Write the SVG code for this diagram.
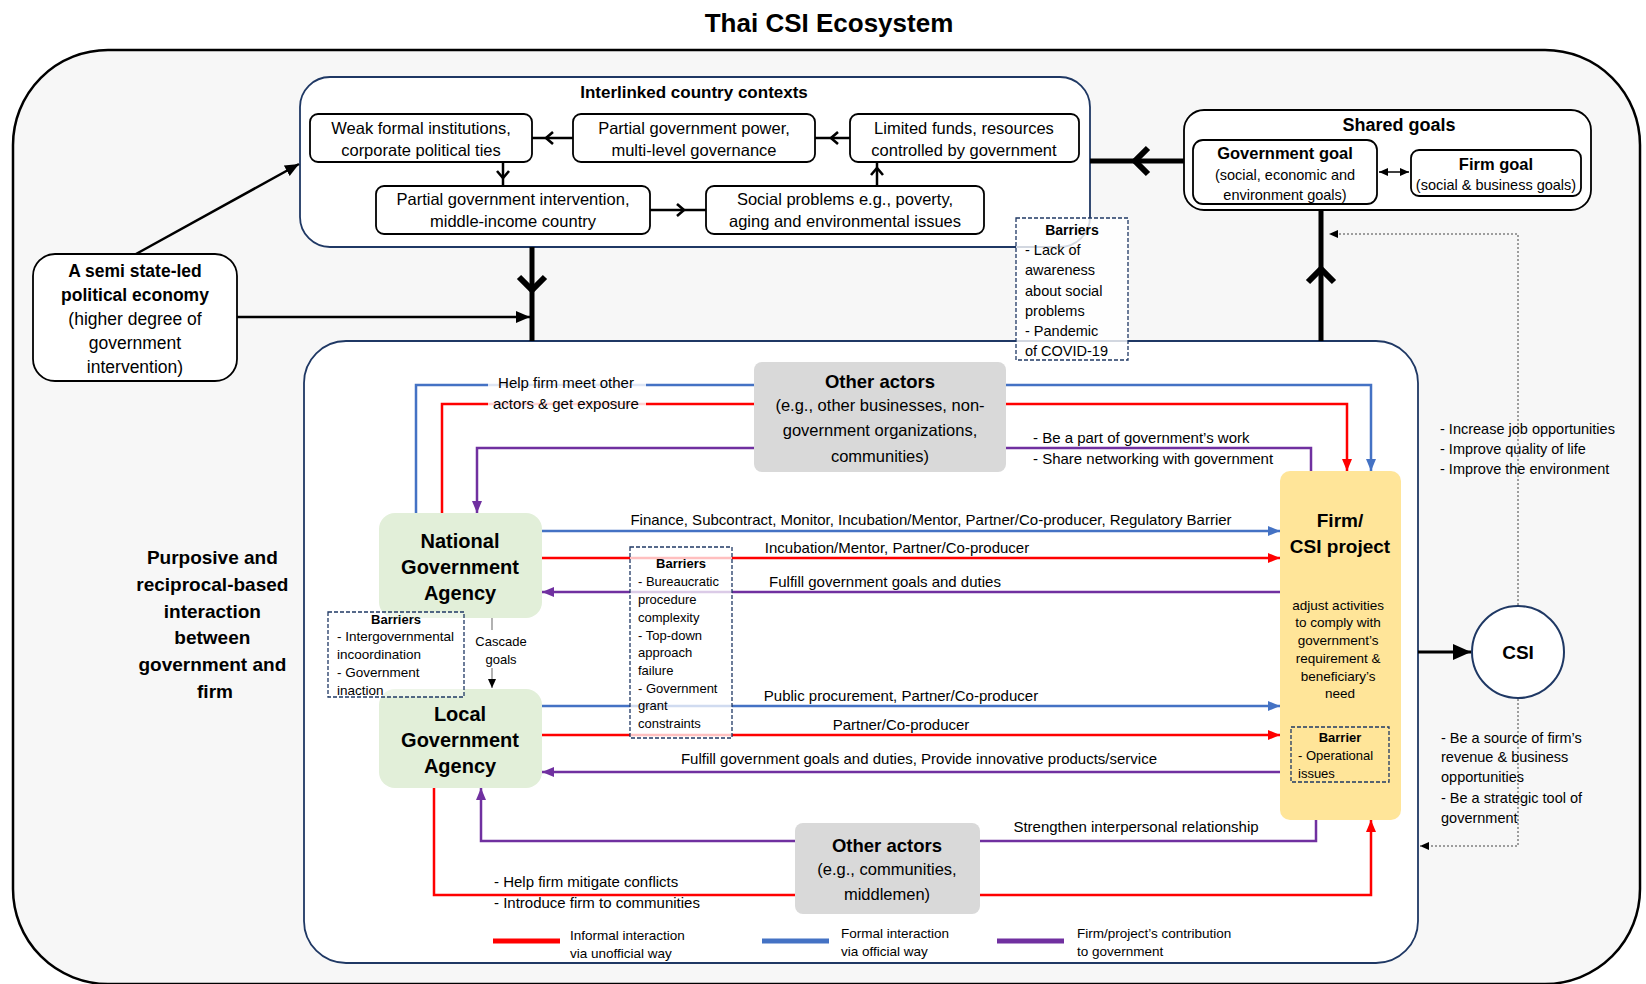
<svg xmlns="http://www.w3.org/2000/svg" width="1646" height="984" viewBox="0 0 1646 984">
  <style>
    text { font-family: "Liberation Sans", Arial, sans-serif; fill: #000; }
    .b { font-weight: bold; }
    .c { text-anchor: middle; }
    .ctx { font-size: 16.5px; }
    .lbl { font-size: 15px; }
    .sm { font-size: 13.5px; }
    .xs { font-size: 13px; }
    .box { fill: #fff; stroke: #000; stroke-width: 1.8; }
    .navy { fill: #fff; stroke: #1f3864; stroke-width: 1.8; }
    .dash { stroke: #1f3864; stroke-width: 1.3; stroke-dasharray: 4 2; }
    .gray { fill: #d9d9d9; }
    .gov { fill: #e2efd9; }
    .blue { fill: none; stroke: #4472c4; stroke-width: 2.5; }
    .red { fill: none; stroke: #ff0000; stroke-width: 2.5; }
    .purple { fill: none; stroke: #7030a0; stroke-width: 2.5; }
    .thin { fill: none; stroke: #000; stroke-width: 2.5; }
    .thick { fill: none; stroke: #000; stroke-width: 5; }
    .dot { fill: none; stroke: #444; stroke-width: 1; stroke-dasharray: 2 2; }
  </style>
  <defs>
    <marker id="aBlue" markerUnits="userSpaceOnUse" viewBox="0 0 12 10" refX="12" refY="5" markerWidth="12" markerHeight="10" orient="auto">
      <path d="M0,0 L12,5 L0,10 z" fill="#4472c4"/>
    </marker>
    <marker id="aRed" markerUnits="userSpaceOnUse" viewBox="0 0 12 10" refX="12" refY="5" markerWidth="12" markerHeight="10" orient="auto">
      <path d="M0,0 L12,5 L0,10 z" fill="#ff0000"/>
    </marker>
    <marker id="aPurple" markerUnits="userSpaceOnUse" viewBox="0 0 12 10" refX="12" refY="5" markerWidth="12" markerHeight="10" orient="auto">
      <path d="M0,0 L12,5 L0,10 z" fill="#7030a0"/>
    </marker>
    <marker id="aBlack" markerUnits="userSpaceOnUse" viewBox="0 0 14 12" refX="14" refY="6" markerWidth="14" markerHeight="12" orient="auto-start-reverse">
      <path d="M0,0 L14,6 L0,12 z" fill="#000"/>
    </marker>
    <marker id="aSmall" markerUnits="userSpaceOnUse" viewBox="0 0 9 8" refX="9" refY="4" markerWidth="9" markerHeight="8" orient="auto-start-reverse">
      <path d="M0,0 L9,4 L0,8 z" fill="#000"/>
    </marker>
    <marker id="aBig" markerUnits="userSpaceOnUse" viewBox="0 0 18 16" refX="18" refY="8" markerWidth="18" markerHeight="16" orient="auto">
      <path d="M0,0 L18,8 L0,16 z" fill="#000"/>
    </marker>
    <marker id="chev" markerUnits="userSpaceOnUse" viewBox="0 0 12 16" refX="9" refY="8" markerWidth="12" markerHeight="16" orient="auto">
      <path d="M2,2 L9,8 L2,14" fill="none" stroke="#000" stroke-width="2.6"/>
    </marker>
    <marker id="chevBig" markerUnits="userSpaceOnUse" viewBox="0 0 22 32" refX="17" refY="16" markerWidth="22" markerHeight="32" orient="auto">
      <path d="M3,3 L16,16 L3,29" fill="none" stroke="#000" stroke-width="6"/>
    </marker>
  </defs>

  <rect width="1646" height="984" fill="#fff"/>

  <!-- title -->
  <text x="829" y="32" class="b c" style="font-size:26px">Thai CSI Ecosystem</text>

  <!-- ecosystem frame -->
  <rect id="frame" x="13" y="50" width="1627" height="934" rx="95" fill="#f7f7f7" stroke="#000" stroke-width="2.5"/>

  <!-- interlinked contexts -->
  <g id="contexts">
    <rect x="300" y="77" width="790" height="170" rx="30" class="navy"/>
    <text x="694" y="98" class="b c" style="font-size:17px">Interlinked country contexts</text>
  </g>
  <g id="ctx-weak">
    <rect x="310" y="114" width="222" height="48" rx="8" class="box"/>
    <text x="421" y="134" class="c ctx">Weak formal institutions,</text>
    <text x="421" y="156" class="c ctx">corporate political ties</text>
  </g>
  <g id="ctx-power">
    <rect x="573" y="114" width="242" height="48" rx="8" class="box"/>
    <text x="694" y="134" class="c ctx">Partial government power,</text>
    <text x="694" y="156" class="c ctx">multi-level governance</text>
  </g>
  <g id="ctx-funds">
    <rect x="850" y="114" width="229" height="48" rx="8" class="box"/>
    <text x="964" y="134" class="c ctx">Limited funds, resources</text>
    <text x="964" y="156" class="c ctx">controlled by government</text>
  </g>
  <g id="ctx-intervention">
    <rect x="376" y="186" width="274" height="48" rx="8" class="box"/>
    <text x="513" y="205" class="c ctx">Partial government intervention,</text>
    <text x="513" y="227" class="c ctx">middle-income country</text>
  </g>
  <g id="ctx-social">
    <rect x="706" y="186" width="278" height="48" rx="8" class="box"/>
    <text x="845" y="205" class="c ctx">Social problems e.g., poverty,</text>
    <text x="845" y="227" class="c ctx">aging and environmental issues</text>
  </g>

  <!-- shared goals -->
  <g id="shared-goals">
    <rect x="1184" y="110" width="407" height="100" rx="20" class="box"/>
    <text x="1399" y="131" class="b c" style="font-size:18px">Shared goals</text>
  </g>
  <g id="gov-goal">
    <rect x="1193" y="140" width="184" height="64" rx="10" class="box"/>
    <text x="1285" y="159" class="b c" style="font-size:16.5px">Government goal</text>
    <text x="1285" y="180" class="c" style="font-size:14.5px">(social, economic and</text>
    <text x="1285" y="200" class="c" style="font-size:14.5px">environment goals)</text>
  </g>
  <g id="firm-goal">
    <rect x="1411" y="150" width="170" height="46" rx="8" class="box"/>
    <text x="1496" y="170" class="b c" style="font-size:16.5px">Firm goal</text>
    <text x="1496" y="190" class="c" style="font-size:14.5px">(social &amp; business goals)</text>
  </g>

  <!-- political economy -->
  <g id="political-economy">
    <rect x="33" y="254" width="204" height="127" rx="22" class="box"/>
    <text x="135" y="277" class="b c" style="font-size:17.5px">A semi state-led</text>
    <text x="135" y="301" class="b c" style="font-size:17.5px">political economy</text>
    <text x="135" y="325" class="c" style="font-size:17.5px">(higher degree of</text>
    <text x="135" y="349" class="c" style="font-size:17.5px">government</text>
    <text x="135" y="373" class="c" style="font-size:17.5px">intervention)</text>
  </g>

  <!-- interaction area -->
  <g id="interaction">
    <rect x="304" y="341" width="1114" height="622" rx="42" class="navy"/>
  </g>

  <text class="b c" style="font-size:19px">
    <tspan x="215" y="564">Purposive and</tspan>
    <tspan x="215" y="591">reciprocal-based</tspan>
    <tspan x="215" y="618">interaction</tspan>
    <tspan x="215" y="644">between</tspan>
    <tspan x="215" y="671">government and</tspan>
    <tspan x="215" y="698">firm</tspan>
  </text>

  <!-- connectors -->
  <g id="connectors">
    <!-- context chain -->
    <polyline points="573,138 546,138 532,138" class="thin" marker-mid="url(#chev)"/>
    <polyline points="850,138 831,138 815,138" class="thin" marker-mid="url(#chev)"/>
    <polyline points="503,162 503,178 503,186" class="thin" marker-mid="url(#chev)"/>
    <polyline points="650,210 684,210 706,210" class="thin" marker-mid="url(#chev)"/>
    <polyline points="877,186 877,168 877,162" class="thin" marker-mid="url(#chev)"/>

    <!-- macro links -->
    <polyline points="1184,161 1134,161 1090,161" class="thick" marker-mid="url(#chevBig)"/>
    <polyline points="532,247 532,291 532,341" class="thick" marker-mid="url(#chevBig)"/>
    <polyline points="1321,341 1321,268 1321,210" class="thick" marker-mid="url(#chevBig)"/>
    <line x1="136" y1="254" x2="299" y2="164" class="thin" marker-end="url(#aBlack)"/>
    <line x1="237" y1="317" x2="530" y2="317" class="thin" marker-end="url(#aBlack)"/>
    <line x1="1379" y1="172" x2="1409" y2="172" stroke="#000" stroke-width="1.5" marker-start="url(#aSmall)" marker-end="url(#aSmall)"/>

    <!-- firm to CSI -->
    <line x1="1418" y1="652" x2="1471" y2="652" stroke="#000" stroke-width="3" marker-end="url(#aBig)"/>
    <polyline points="1518,605 1518,234 1329,234" class="dot" marker-end="url(#aSmall)"/>
    <polyline points="1518,699 1518,846 1420,846" class="dot" marker-end="url(#aSmall)"/>

    <!-- loops through other actors (top) -->
    <polyline points="416,513 416,385 1371,385 1371,471" class="blue" marker-end="url(#aBlue)"/>
    <polyline points="442,513 442,404 1347,404 1347,471" class="red" marker-end="url(#aRed)"/>
    <polyline points="1311,471 1311,448 477,448 477,513" class="purple" marker-end="url(#aPurple)"/>

    <!-- national agency links -->
    <line x1="542" y1="531" x2="1280" y2="531" class="blue" marker-end="url(#aBlue)"/>
    <line x1="542" y1="558" x2="1280" y2="558" class="red" marker-end="url(#aRed)"/>
    <line x1="1280" y1="592" x2="542" y2="592" class="purple" marker-end="url(#aPurple)"/>

    <!-- local agency links -->
    <line x1="542" y1="706" x2="1280" y2="706" class="blue" marker-end="url(#aBlue)"/>
    <line x1="542" y1="735" x2="1280" y2="735" class="red" marker-end="url(#aRed)"/>
    <line x1="1280" y1="772" x2="542" y2="772" class="purple" marker-end="url(#aPurple)"/>

    <!-- loops through other actors (bottom) -->
    <polyline points="1316,820 1316,841 481,841 481,788" class="purple" marker-end="url(#aPurple)"/>
    <polyline points="434,788 434,895 1371,895 1371,820" class="red" marker-end="url(#aRed)"/>

    <!-- cascade -->
    <line x1="492" y1="618" x2="492" y2="688" stroke="#888" stroke-width="1.3" marker-end="url(#aSmall)"/>
  </g>

  <!-- connector labels -->
  <g id="labels">
    <rect x="488" y="372" width="158" height="42" fill="#fff" opacity="0.82"/>
    <text x="566" y="388" class="c lbl">Help firm meet other</text>
    <text x="566" y="409" class="c lbl">actors &amp; get exposure</text>
    <text x="1033" y="443" class="lbl">- Be a part of government’s work</text>
    <text x="1033" y="464" class="lbl">- Share networking with government</text>
    <text x="931" y="525" class="c lbl">Finance, Subcontract, Monitor, Incubation/Mentor, Partner/Co-producer, Regulatory Barrier</text>
    <text x="897" y="553" class="c lbl">Incubation/Mentor, Partner/Co-producer</text>
    <text x="885" y="587" class="c lbl">Fulfill government goals and duties</text>
    <text x="901" y="701" class="c lbl">Public procurement, Partner/Co-producer</text>
    <text x="901" y="730" class="c lbl">Partner/Co-producer</text>
    <text x="919" y="764" class="c lbl">Fulfill government goals and duties, Provide innovative products/service</text>
    <text x="1136" y="832" class="c lbl">Strengthen interpersonal relationship</text>
    <text x="494" y="887" class="lbl">- Help firm mitigate conflicts</text>
    <text x="494" y="908" class="lbl">- Introduce firm to communities</text>
    <rect x="478" y="630" width="48" height="38" fill="#fff"/>
    <text x="501" y="646" class="c xs">Cascade</text>
    <text x="501" y="664" class="c xs">goals</text>
  </g>

  <!-- other actors -->
  <g id="other-actors-top">
    <rect x="754" y="362" width="252" height="110" rx="8" class="gray"/>
    <text x="880" y="388" class="b c" style="font-size:18.5px">Other actors</text>
    <text x="880" y="411" class="c" style="font-size:16.5px">(e.g., other businesses, non-</text>
    <text x="880" y="436" class="c" style="font-size:16.5px">government organizations,</text>
    <text x="880" y="462" class="c" style="font-size:16.5px">communities)</text>
  </g>
  <g id="other-actors-bottom">
    <rect x="795" y="823" width="185" height="91" rx="8" class="gray"/>
    <text x="887" y="852" class="b c" style="font-size:18.5px">Other actors</text>
    <text x="887" y="875" class="c" style="font-size:16.5px">(e.g., communities,</text>
    <text x="887" y="900" class="c" style="font-size:16.5px">middlemen)</text>
  </g>

  <!-- government agencies -->
  <g id="national-agency">
    <rect x="379" y="513" width="163" height="105" rx="16" class="gov"/>
    <text x="460" y="548" class="b c" style="font-size:20px">National</text>
    <text x="460" y="574" class="b c" style="font-size:20px">Government</text>
    <text x="460" y="600" class="b c" style="font-size:20px">Agency</text>
  </g>
  <g id="local-agency">
    <rect x="379" y="689" width="163" height="99" rx="16" class="gov"/>
    <text x="460" y="721" class="b c" style="font-size:20px">Local</text>
    <text x="460" y="747" class="b c" style="font-size:20px">Government</text>
    <text x="460" y="773" class="b c" style="font-size:20px">Agency</text>
  </g>

  <!-- firm / CSI project -->
  <g id="firm">
    <rect x="1280" y="471" width="121" height="349" rx="10" fill="#ffe599"/>
    <text x="1340" y="527" class="b c" style="font-size:19px">Firm/</text>
    <text x="1340" y="553" class="b c" style="font-size:19px">CSI project</text>
    <text class="c sm">
      <tspan x="1340" y="610">adjust activities</tspan>
      <tspan x="1340" y="627">to comply with</tspan>
      <tspan x="1340" y="645">government’s</tspan>
      <tspan x="1340" y="663">requirement &amp;</tspan>
      <tspan x="1340" y="681">beneficiary’s</tspan>
      <tspan x="1340" y="698">need</tspan>
    </text>
    <rect x="1291" y="727" width="98" height="55" fill="none" class="dash"/>
    <text x="1340" y="742" class="b c xs">Barrier</text>
    <text x="1298" y="760" class="xs">- Operational</text>
    <text x="1298" y="778" class="xs">issues</text>
  </g>

  <!-- CSI -->
  <g id="csi">
    <circle cx="1518" cy="652" r="46" fill="#fff" stroke="#1f3864" stroke-width="2"/>
    <text x="1518" y="659" class="b c" style="font-size:19px">CSI</text>
  </g>
  <g id="csi-benefits">
    <text x="1440" y="434" style="font-size:14.5px">- Increase job opportunities</text>
    <text x="1440" y="454" style="font-size:14.5px">- Improve quality of life</text>
    <text x="1440" y="474" style="font-size:14.5px">- Improve the environment</text>
  </g>
  <g id="csi-returns">
    <text x="1441" y="743" style="font-size:14.5px">- Be a source of firm’s</text>
    <text x="1441" y="762" style="font-size:14.5px">revenue &amp; business</text>
    <text x="1441" y="782" style="font-size:14.5px">opportunities</text>
    <text x="1441" y="803" style="font-size:14.5px">- Be a strategic tool of</text>
    <text x="1441" y="823" style="font-size:14.5px">government</text>
  </g>

  <!-- barriers -->
  <g id="barriers-context">
    <rect x="1016" y="218" width="112" height="142" fill="#fff" fill-opacity="0.8" class="dash"/>
    <text x="1072" y="235" class="b c" style="font-size:14px">Barriers</text>
    <text style="font-size:14.5px">
      <tspan x="1025" y="255">- Lack of</tspan>
      <tspan x="1025" y="275">awareness</tspan>
      <tspan x="1025" y="296">about social</tspan>
      <tspan x="1025" y="316">problems</tspan>
      <tspan x="1025" y="336">- Pandemic</tspan>
      <tspan x="1025" y="356">of COVID-19</tspan>
    </text>
  </g>
  <g id="barriers-government">
    <rect x="328" y="612" width="136" height="85" fill="#fff" fill-opacity="0.4" class="dash"/>
    <text x="396" y="624" class="b c xs">Barriers</text>
    <text class="sm">
      <tspan x="337" y="641">- Intergovernmental</tspan>
      <tspan x="337" y="659">incoordination</tspan>
      <tspan x="337" y="677">- Government</tspan>
      <tspan x="337" y="695">inaction</tspan>
    </text>
  </g>
  <g id="barriers-procedure">
    <rect x="630" y="547" width="102" height="191" fill="#fff" fill-opacity="0.75" class="dash"/>
    <text x="681" y="568" class="b c xs">Barriers</text>
    <text class="xs">
      <tspan x="638" y="586">- Bureaucratic</tspan>
      <tspan x="638" y="604">procedure</tspan>
      <tspan x="638" y="622">complexity</tspan>
      <tspan x="638" y="640">- Top-down</tspan>
      <tspan x="638" y="657">approach</tspan>
      <tspan x="638" y="675">failure</tspan>
      <tspan x="638" y="693">- Government</tspan>
      <tspan x="638" y="710">grant</tspan>
      <tspan x="638" y="728">constraints</tspan>
    </text>
  </g>

  <!-- legend -->
  <g id="legend">
    <line x1="493" y1="941" x2="560" y2="941" stroke="#ff0000" stroke-width="5"/>
    <text x="570" y="940" class="sm">Informal interaction</text>
    <text x="570" y="958" class="sm">via unofficial way</text>
    <line x1="762" y1="941" x2="829" y2="941" stroke="#4472c4" stroke-width="5"/>
    <text x="841" y="938" class="sm">Formal interaction</text>
    <text x="841" y="956" class="sm">via official way</text>
    <line x1="997" y1="941" x2="1064" y2="941" stroke="#7030a0" stroke-width="5"/>
    <text x="1077" y="938" class="sm">Firm/project’s contribution</text>
    <text x="1077" y="956" class="sm">to government</text>
  </g>
</svg>
